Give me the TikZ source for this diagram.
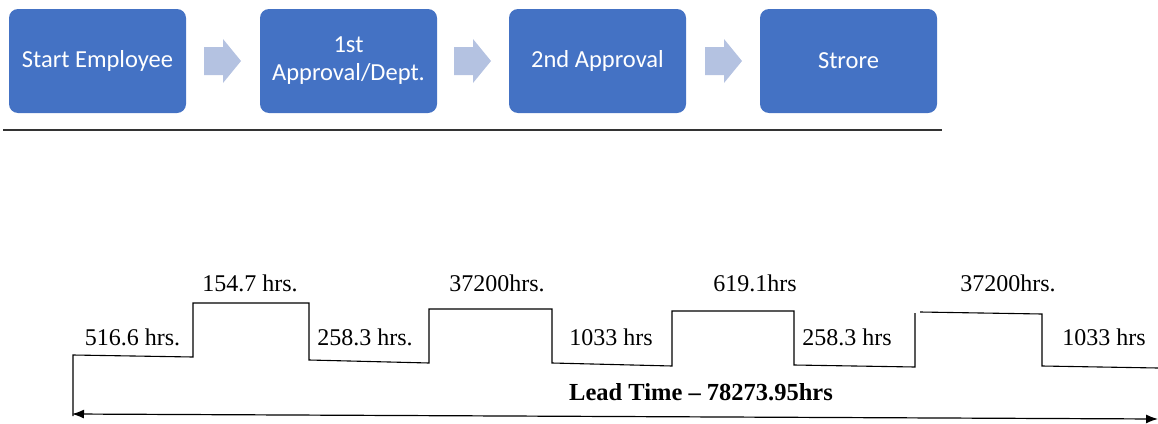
\documentclass[tikz,border=0pt]{standalone}
\usepackage{fontspec}
\setmainfont{Liberation Serif}
\newfontfamily\boxfont{Carlito}
\usetikzlibrary{arrows.meta}
\definecolor{boxblue}{HTML}{4472C4}
\definecolor{arrowblue}{HTML}{B4C2E1}
\tikzset{
  stepbox/.style={fill=boxblue, draw=none, rounded corners=9pt, minimum width=177pt, minimum height=104pt,
    text=white, font=\boxfont\fontsize{24.5}{28}\selectfont, align=center, inner sep=0pt},
  blockarrow/.style={fill=arrowblue, draw=none},
  wave/.style={line width=1.1pt, black},
  lbl/.style={font=\fontsize{24}{26}\selectfont, inner sep=0pt},
  leadarrow/.style={line width=1.2pt, {Latex[length=12pt,width=9pt]}-{Latex[length=12pt,width=9pt]}}
}
\begin{document}
\begin{tikzpicture}[x=1pt,y=-1pt]
\useasboundingbox (0,0) rectangle (1158,423);
% process boxes
\node[stepbox] (b1) at (97.5,61) {Start Employee};
\node[stepbox] (b2) at (348.5,61) {1st\\Approval/Dept.};
\node[stepbox] (b3) at (597.5,61) {2nd Approval};
\node[stepbox] (b4) at (848.5,61) {Strore};
% block arrows
\foreach \x in {204,454,705}{
  \fill[blockarrow] (\x,47) -- (\x+19,47) -- (\x+19,39) -- (\x+37,61) -- (\x+19,83) -- (\x+19,75) -- (\x,75) -- cycle;
}
% separator line
\coordinate (s1) at (3,130);
\coordinate (s2) at (942,130);
\draw[line width=2pt, black!80] (s1) -- (s2);
% waveform
\coordinate (w0) at (73,416);
\coordinate (w1) at (73,355);
\coordinate (w2) at (193,357);
\coordinate (w3) at (193,303);
\coordinate (w4) at (309,303);
\coordinate (w5) at (309,360);
\coordinate (w6) at (429,363);
\coordinate (w7) at (429,309);
\coordinate (w8) at (552,309);
\coordinate (w9) at (552,363);
\coordinate (w10) at (672,366);
\coordinate (w11) at (672,311);
\coordinate (w12) at (794,311);
\coordinate (w13) at (794,365);
\coordinate (w14) at (915,367);
\coordinate (w15) at (915,313);
\coordinate (w16) at (920,312);
\coordinate (w17) at (1042,314);
\coordinate (w18) at (1042,366);
\coordinate (w19) at (1158,368);
\draw[wave] (w0) -- (w1) -- (w2) -- (w3) -- (w4) -- (w5) -- (w6) -- (w7) -- (w8) -- (w9) -- (w10) -- (w11) -- (w12) -- (w13) -- (w14) -- (w15);
\draw[wave] (w16) -- (w17) -- (w18) -- (w19);
% lead time arrow
\coordinate (l1) at (72,414);
\coordinate (l2) at (1158,419);
\draw[leadarrow] (l1) -- (l2);
% labels
\node[lbl] (t1) at (132.5,337) {516.6 hrs.};
\node[lbl] (t2) at (250,283) {154.7 hrs.};
\node[lbl] (t3) at (365,337) {258.3 hrs.};
\node[lbl] (t4) at (497,283) {37200hrs.};
\node[lbl] (t5) at (611,337) {1033 hrs};
\node[lbl] (t6) at (755,283) {619.1hrs};
\node[lbl] (t7) at (847,337) {258.3 hrs};
\node[lbl] (t8) at (1008,283) {37200hrs.};
\node[lbl] (t9) at (1104,337) {1033 hrs};
\node[lbl, font=\bfseries\fontsize{24.5}{26}\selectfont] (lt) at (701,392) {Lead Time -- 78273.95hrs};
\end{tikzpicture}
\end{document}
